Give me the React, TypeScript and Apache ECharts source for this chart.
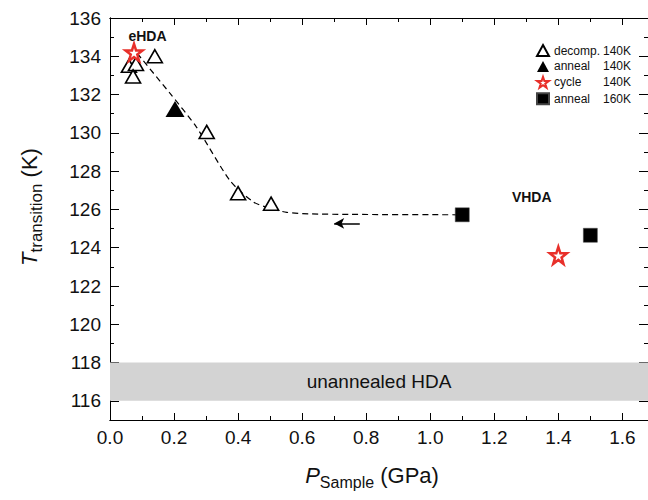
import React, { useEffect, useRef } from "react";
import * as echarts from "echarts";

// ---- data ----
const decompX = [0.059, 0.081, 0.072, 0.14, 0.302, 0.40, 0.503];
const decompY = [133.5, 133.6, 132.95, 134.0, 130.05, 126.85, 126.3];
const anneal140X = [0.203];
const anneal140Y = [131.25];
const cycleX = [0.075, 1.40];
const cycleY = [134.2, 123.6];
const anneal160X = [1.10, 1.50];
const anneal160Y = [125.72, 124.65];
const curveX = [0.085, 0.187, 0.27, 0.375, 0.447, 0.5, 0.552, 0.62, 0.75, 1.1];
const curveY = [134.15, 132.07, 130.3, 127.5, 126.4, 126.06, 125.85, 125.77, 125.74, 125.72];
const arrowX = [0.78, 0.70];
const arrowY = [125.27, 125.27];
const xMajor = [0, 0.2, 0.4, 0.6, 0.8, 1.0, 1.2, 1.4, 1.6];
const xMinor = [0.1, 0.3, 0.5, 0.7, 0.9, 1.1, 1.3, 1.5];
const yMajor = [116, 118, 120, 122, 124, 126, 128, 130, 132, 134, 136];
const yMinor = [115, 117, 119, 121, 123, 125, 127, 129, 131, 133, 135];
const annotations = [
  { x: 0.117, y: 135.06, text: "eHDA" },
  { x: 1.317, y: 126.66, text: "VHDA" },
];
const bandRange = [116, 118];
const bandLabel = "unannealed HDA";
const X_MIN = 0;
const X_MAX = 1.68;
const Y_MIN = 115;
const Y_MAX = 136;

const FONT = "'Liberation Sans', Arial, Helvetica, sans-serif";
const TXT = "#111";
const STAR =
  "path://M50,0 L61.8,35.1 L98.9,35.1 L68.8,57 L79.4,91.9 L50,70.5 L20.6,91.9 L31.2,57 L1.1,35.1 L38.2,35.1 Z";

const zip = (xs: number[], ys: number[]) => xs.map((x, i) => [x, ys[i]]);

function mkX(pos: string, values: number[], len: number, labels: boolean) {
  return {
    type: "value",
    position: pos,
    min: X_MIN,
    max: X_MAX,
    axisLine: { show: true, onZero: false, lineStyle: { color: "#000", width: 1 } },
    axisTick: { show: true, inside: true, length: len, customValues: values, lineStyle: { color: "#000", width: 1 } },
    axisLabel: labels
      ? {
          show: true,
          customValues: values,
          formatter: (v: number) => v.toFixed(1),
          fontSize: 19,
          color: TXT,
          fontFamily: FONT,
          margin: 8,
        }
      : { show: false },
    splitLine: { show: false },
  };
}

function mkY(pos: string, values: number[], len: number, labels: boolean) {
  return {
    type: "value",
    position: pos,
    min: Y_MIN,
    max: Y_MAX,
    axisLine: { show: true, onZero: false, lineStyle: { color: "#000", width: 1 } },
    axisTick: { show: true, inside: true, length: len, customValues: values, lineStyle: { color: "#000", width: 1 } },
    axisLabel: labels
      ? {
          show: true,
          customValues: values,
          formatter: (v: number) => String(Math.round(v)),
          fontSize: 19,
          color: TXT,
          fontFamily: FONT,
          margin: 9,
        }
      : { show: false },
    splitLine: { show: false },
  };
}

export default function App() {
  const ref = useRef<HTMLDivElement>(null);
  useEffect(() => {
    if (!ref.current) return;
    const chart = echarts.init(ref.current, undefined, { renderer: "svg" });
    const xAxes: any[] = [
      mkX("bottom", xMajor, 7, true),
      mkX("top", xMajor, 7, false),
      mkX("bottom", xMinor, 4, false),
      mkX("top", xMinor, 4, false),
    ];
    xAxes[0].name = "{i|P}{s|Sample}{n| (GPa)}";
    xAxes[0].nameLocation = "middle";
    xAxes[0].nameGap = 44;
    xAxes[0].nameTextStyle = {
      color: TXT,
      fontFamily: FONT,
      padding: [0, 14, 0, 0],
      rich: {
        i: { fontSize: 22, fontStyle: "italic", fontFamily: FONT, color: TXT, lineHeight: 22, verticalAlign: "top" },
        s: { fontSize: 16, fontFamily: FONT, color: TXT, lineHeight: 16, verticalAlign: "top", padding: [10, 0, 0, 0] },
        n: { fontSize: 22, fontFamily: FONT, color: TXT, lineHeight: 22, verticalAlign: "top" },
      },
    };
    const yAxes: any[] = [
      mkY("left", yMajor, 9, true),
      mkY("right", yMajor, 9, false),
      mkY("left", yMinor, 4, false),
      mkY("right", yMinor, 4, false),
    ];
    yAxes[0].name = "{i|T}{s|transition}{n| (K)}";
    yAxes[0].nameLocation = "middle";
    yAxes[0].nameGap = 70;
    yAxes[0].nameTextStyle = {
      color: TXT,
      fontFamily: FONT,
      padding: [0, 0, 0, 24],
      rich: {
        i: { fontSize: 22, fontStyle: "italic", fontFamily: FONT, color: TXT, lineHeight: 22, verticalAlign: "top" },
        s: { fontSize: 17, fontFamily: FONT, color: TXT, lineHeight: 17, verticalAlign: "top", padding: [10, 0, 0, 0] },
        n: { fontSize: 22, fontFamily: FONT, color: TXT, lineHeight: 22, verticalAlign: "top" },
      },
    };

    const legendNames = ["decomp. 140K", "anneal 140K", "cycle 140K", "anneal 160K"];

    const option: any = {
      animation: false,
      backgroundColor: "#fff",
      textStyle: { fontFamily: FONT },
      grid: { left: 110, top: 18, right: 0, bottom: 80 },
      xAxis: xAxes,
      yAxis: yAxes,
      legend: {
        data: legendNames,
        orient: "vertical",
        left: 531,
        top: 39,
        itemWidth: 12,
        itemHeight: 11,
        itemGap: 3.4,
        itemTextGap: 12,
        formatter: (name: string) => {
          const k = name.lastIndexOf(" ");
          return `{a|${name.slice(0, k)}}{b|${name.slice(k + 1)}}`;
        },
        textStyle: {
          color: TXT,
          fontSize: 12,
          fontFamily: FONT,
          rich: {
            a: { width: 49, fontSize: 12, fontFamily: FONT, color: TXT },
            b: { fontSize: 12, fontFamily: FONT, color: TXT },
          },
        },
      },
      series: [
        {
          name: "band",
          type: "line",
          data: [],
          silent: true,
          markArea: {
            silent: true,
            itemStyle: { color: "#d3d3d3", opacity: 1 },
            label: {
              show: true,
              position: "inside",
              formatter: bandLabel,
              fontSize: 19,
              color: TXT,
              fontFamily: FONT,
            },
            data: [[{ yAxis: bandRange[0] }, { yAxis: bandRange[1] }]],
          },
        },
        {
          name: "curve",
          type: "line",
          data: zip(curveX, curveY),
          smooth: 0.25,
          symbol: "none",
          silent: true,
          lineStyle: { color: "#000", width: 1.2, type: [6, 4] },
          z: 1,
        },
        {
          name: "arrow",
          type: "line",
          data: [],
          silent: true,
          markLine: {
            silent: true,
            symbol: ["none", "arrow"],
            symbolSize: [8, 10],
            label: { show: false },
            lineStyle: { color: "#000", width: 1.5, type: "solid" },
            data: [
              [
                { coord: [arrowX[0], arrowY[0]] },
                { coord: [arrowX[1], arrowY[1]] },
              ],
            ],
          },
        },
        {
          name: legendNames[0],
          type: "scatter",
          data: zip(decompX, decompY),
          symbol: "triangle",
          symbolSize: [15, 13],
          itemStyle: { color: "#fff", borderColor: "#000", borderWidth: 1.6, opacity: 1 },
          z: 3,
        },
        {
          name: legendNames[1],
          type: "scatter",
          data: zip(anneal140X, anneal140Y),
          symbol: "triangle",
          symbolSize: [19, 16],
          itemStyle: { color: "#000", opacity: 1 },
          z: 3,
        },
        {
          name: legendNames[2],
          type: "scatter",
          data: zip(cycleX, cycleY),
          symbol: STAR,
          symbolSize: 17,
          itemStyle: { color: "#fff", borderColor: "#e8302a", borderWidth: 2.5, opacity: 1 },
          z: 4,
        },
        {
          name: legendNames[3],
          type: "scatter",
          data: zip(anneal160X, anneal160Y),
          symbol: "rect",
          symbolSize: 14,
          itemStyle: { color: "#000", borderColor: "#444", borderWidth: 0.5, opacity: 1 },
          z: 3,
        },
        {
          name: "labels",
          type: "scatter",
          silent: true,
          symbolSize: 0,
          itemStyle: { color: "transparent", opacity: 1 },
          data: annotations.map((a) => ({ value: [a.x, a.y], name: a.text })),
          label: {
            show: true,
            position: [0, 0],
            align: "center",
            verticalAlign: "middle",
            formatter: (p: any) => p.name,
            fontSize: 14,
            fontWeight: "bold",
            color: TXT,
            fontFamily: FONT,
          },
          z: 5,
        },
      ],
    };
    chart.setOption(option);
    return () => chart.dispose();
  }, []);
  return (
    <div
      ref={ref}
      style={{ position: "fixed", left: 0, top: 0, width: 648, height: 500 }}
    />
  );
}
